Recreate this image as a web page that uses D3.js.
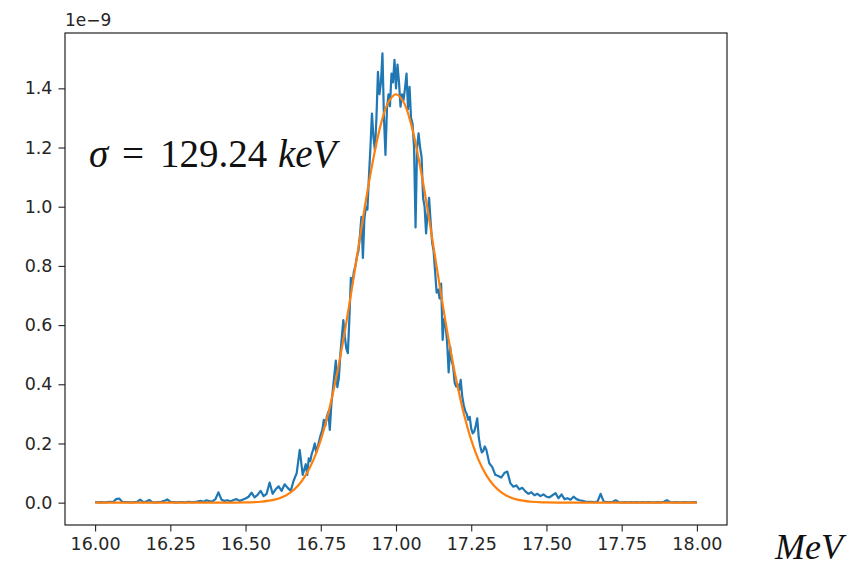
<!DOCTYPE html>
<html>
<head>
<meta charset="utf-8">
<script src="https://cdn.jsdelivr.net/npm/d3@7/dist/d3.min.js"></script>
<style>
  body { margin: 0; background: #fff; }
  .tick text { font-family: "DejaVu Sans", sans-serif; fill: #262626; }
</style>
</head>
<body>
<div id="chart"></div>
<script>
// measured spectrum (MeV, 1e-9 units)
var leftTail = [
  [16.00,0.002],[16.01,0.001],[16.02,0.002],[16.03,0.001],[16.04,0.002],[16.05,0.003],
  [16.06,0.002],[16.07,0.012],[16.08,0.014],[16.09,0.003],[16.10,0.002],[16.11,0.002],
  [16.12,0.001],[16.13,0.002],[16.14,0.003],[16.15,0.010],[16.16,0.002],[16.17,0.004],
  [16.18,0.009],[16.19,0.002],[16.20,0.001],[16.21,0.002],[16.22,0.003],[16.23,0.006],
  [16.24,0.011],[16.25,0.003],[16.26,0.002],[16.27,0.001],[16.28,0.002],[16.29,0.002],
  [16.30,0.001],[16.31,0.003],[16.32,0.002],[16.33,0.002],[16.34,0.004],[16.35,0.006],
  [16.36,0.003],[16.37,0.008],[16.38,0.005],[16.39,0.004],[16.40,0.012],[16.41,0.035],
  [16.42,0.010],[16.43,0.006],[16.44,0.008],[16.45,0.004],[16.46,0.009],[16.47,0.012],
  [16.48,0.006],[16.49,0.010],[16.50,0.014],[16.51,0.020],[16.52,0.034],[16.53,0.018],
  [16.54,0.026],[16.55,0.040],[16.56,0.022],[16.57,0.030],[16.58,0.068],[16.59,0.030],
  [16.60,0.045],[16.61,0.055],[16.62,0.040],[16.63,0.062],[16.64,0.050],[16.65,0.040],
  [16.66,0.075],[16.67,0.100],[16.68,0.178],[16.69,0.094]
];

var peakRise = [
  [16.700,0.130],[16.705,0.094],[16.710,0.150],[16.715,0.140],[16.720,0.165],[16.725,0.180],
  [16.730,0.200],[16.735,0.170],[16.740,0.190],[16.745,0.210],[16.750,0.230],[16.755,0.245],
  [16.760,0.280],[16.765,0.260],[16.770,0.290],[16.775,0.307],[16.780,0.246],[16.785,0.330],
  [16.790,0.380],[16.795,0.430],[16.800,0.480],[16.805,0.390],[16.810,0.420],[16.815,0.500],
  [16.820,0.560],[16.825,0.617],[16.830,0.560],[16.835,0.520],[16.840,0.505],[16.845,0.620],
  [16.850,0.760],[16.855,0.740],[16.860,0.780],[16.865,0.800],[16.870,0.830],[16.875,0.850],
  [16.880,0.900],[16.885,0.966],[16.890,0.827],[16.895,0.960],[16.900,1.000],[16.905,0.990],
  [16.910,1.100],[16.915,1.200],[16.920,1.315],[16.925,1.236],[16.930,1.190],[16.935,1.300],
  [16.940,1.456],[16.945,1.380],[16.950,1.420],[16.955,1.518],[16.960,1.300],[16.965,1.175],
  [16.970,1.330],[16.975,1.380],[16.980,1.340],[16.985,1.450],[16.990,1.420],[16.995,1.496]
];

var peakFall = [
  [17.000,1.400],[17.005,1.480],[17.010,1.420],[17.015,1.338],[17.020,1.380],[17.025,1.360],
  [17.030,1.400],[17.035,1.450],[17.040,1.330],[17.045,1.405],[17.050,1.300],[17.055,1.280],
  [17.060,1.200],[17.065,0.930],[17.070,1.200],[17.075,1.248],[17.080,1.200],[17.085,1.169],
  [17.090,1.030],[17.095,1.000],[17.100,0.910],[17.105,0.980],[17.110,1.030],[17.115,0.950],
  [17.120,0.880],[17.125,0.850],[17.130,0.780],[17.135,0.710],[17.140,0.720],[17.145,0.690],
  [17.150,0.740],[17.155,0.550],[17.160,0.620],[17.165,0.600],[17.170,0.540],[17.175,0.440],
  [17.180,0.527],[17.185,0.480],[17.190,0.460],[17.195,0.405],[17.200,0.392],[17.205,0.400],
  [17.210,0.380],[17.215,0.415],[17.220,0.360],[17.225,0.330],[17.230,0.310],[17.235,0.300],
  [17.240,0.280],[17.245,0.290],[17.250,0.250],[17.255,0.234],[17.260,0.240],[17.265,0.260],
  [17.270,0.285],[17.275,0.220],[17.280,0.190],[17.285,0.170],[17.290,0.175],[17.295,0.190]
];

var rightTail = [
  [17.30,0.180],[17.31,0.133],[17.32,0.120],[17.33,0.094],[17.34,0.090],[17.35,0.085],
  [17.36,0.100],[17.37,0.105],[17.38,0.066],[17.39,0.054],[17.40,0.058],[17.41,0.045],
  [17.42,0.050],[17.43,0.038],[17.44,0.030],[17.45,0.035],[17.46,0.025],[17.47,0.030],
  [17.48,0.022],[17.49,0.028],[17.50,0.020],[17.51,0.018],[17.52,0.025],[17.53,0.032],
  [17.54,0.015],[17.55,0.028],[17.56,0.012],[17.57,0.015],[17.58,0.010],[17.59,0.020],
  [17.60,0.012],[17.61,0.008],[17.62,0.006],[17.63,0.004],[17.64,0.003],[17.65,0.003],
  [17.66,0.002],[17.67,0.004],[17.68,0.030],[17.69,0.004],[17.70,0.002],[17.71,0.002],
  [17.72,0.003],[17.73,0.008],[17.74,0.002],[17.75,0.001],[17.76,0.002],[17.77,0.001],
  [17.78,0.002],[17.79,0.001],[17.80,0.002],[17.81,0.001],[17.82,0.002],[17.83,0.001],
  [17.84,0.002],[17.85,0.001],[17.86,0.001],[17.87,0.002],[17.88,0.001],[17.89,0.003],
  [17.90,0.008],[17.91,0.002],[17.92,0.001],[17.93,0.002],[17.94,0.001],[17.95,0.001],
  [17.96,0.002],[17.97,0.001],[17.98,0.001],[17.99,0.002],[18.00,0.001]
];

// gaussian fit
var fitCurve = [
  [16.00,0],[16.40,0],[16.50,0.001],[16.55,0.003],[16.60,0.011],[16.625,0.020],
  [16.65,0.035],[16.675,0.058],[16.70,0.093],[16.725,0.143],[16.75,0.212],[16.775,0.302],
  [16.80,0.416],[16.825,0.550],[16.85,0.702],[16.875,0.862],[16.90,1.022],[16.925,1.164],
  [16.95,1.280],[16.975,1.354],[17.00,1.380],[17.025,1.354],[17.05,1.280],[17.075,1.164],
  [17.10,1.022],[17.125,0.862],[17.15,0.702],[17.175,0.550],[17.20,0.416],[17.225,0.302],
  [17.25,0.212],[17.275,0.143],[17.30,0.093],[17.325,0.058],[17.35,0.035],[17.375,0.020],
  [17.40,0.011],[17.45,0.003],[17.50,0.001],[17.60,0],[18.00,0]
];

var xTicks = [16.00, 16.25, 16.50, 16.75, 17.00, 17.25, 17.50, 17.75, 18.00];
var yTicks = [0.0, 0.2, 0.4, 0.6, 0.8, 1.0, 1.2, 1.4];

var width = 851, height = 567;
var box = {left: 65, right: 727, top: 33, bottom: 525};

var svg = d3.select("#chart").append("svg")
    .attr("width", width)
    .attr("height", height);

var x = d3.scaleLinear()
    .domain([15.9, 18.1])
    .range([box.left, box.right]);
var y = d3.scaleLinear()
    .domain([-0.0755, 1.587])
    .range([box.bottom, box.top]);

var line = d3.line()
    .x(function(d) { return x(d[0]); })
    .y(function(d) { return y(d[1]); });

var spectrum = leftTail.concat(peakRise, peakFall, rightTail);

svg.append("path")
    .attr("d", line(spectrum))
    .attr("fill", "none")
    .attr("stroke", "#1f77b4")
    .attr("stroke-width", 2.2)
    .attr("stroke-linejoin", "round");

svg.append("path")
    .attr("d", line.curve(d3.curveCatmullRom)(fitCurve))
    .attr("fill", "none")
    .attr("stroke", "#ff7f0e")
    .attr("stroke-width", 2.2);

// axes
svg.append("g")
    .attr("transform", "translate(0," + box.bottom + ")")
    .call(d3.axisBottom(x).tickValues(xTicks).tickFormat(d3.format(".2f"))
        .tickSizeOuter(0).tickSize(6.5).tickPadding(6));
svg.append("g")
    .attr("transform", "translate(" + box.left + ",0)")
    .call(d3.axisLeft(y).tickValues(yTicks).tickFormat(d3.format(".1f"))
        .tickSizeOuter(0).tickSize(6.5).tickPadding(6));
svg.selectAll(".domain").remove();
svg.selectAll(".tick line").attr("stroke", "#222").attr("stroke-width", 1.1);
svg.selectAll(".tick text").attr("font-size", 17.5);

svg.append("rect")
    .attr("x", box.left).attr("y", box.top)
    .attr("width", box.right - box.left)
    .attr("height", box.bottom - box.top)
    .attr("fill", "none")
    .attr("stroke", "#222")
    .attr("stroke-width", 1.2);

svg.append("text")
    .attr("x", box.left).attr("y", 26)
    .attr("font-family", "DejaVu Sans, sans-serif")
    .attr("font-size", 17)
    .attr("fill", "#262626")
    .text("1e\u22129");

// annotation, spaced like the math font in the original
var sig = svg.append("text")
    .attr("y", 167)
    .attr("font-family", "Liberation Serif, DejaVu Serif, serif")
    .attr("font-size", 39)
    .attr("fill", "#111");
sig.append("tspan").attr("x", 89).attr("font-style", "italic").text("\u03c3");
sig.append("tspan").attr("x", 122).text("=");
sig.append("tspan").attr("x", 160).text("129.24");
sig.append("tspan").attr("x", 278).attr("font-style", "italic").text("keV");

svg.append("text")
    .attr("x", 775).attr("y", 559)
    .attr("font-family", "Liberation Serif, DejaVu Serif, serif")
    .attr("font-style", "italic")
    .attr("font-size", 36)
    .attr("fill", "#111")
    .text("MeV");
</script>
</body>
</html>
